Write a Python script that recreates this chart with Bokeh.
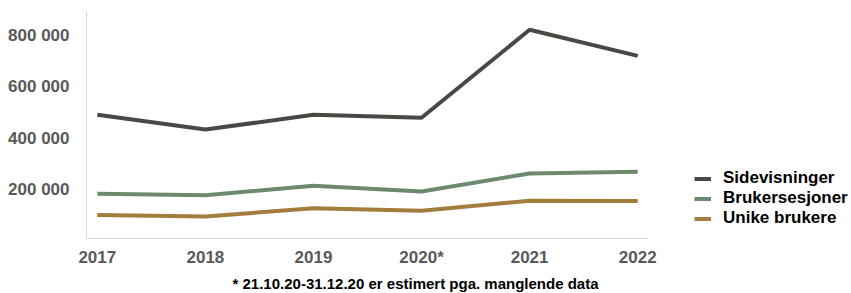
from bokeh.plotting import figure
from bokeh.models import Legend, LegendItem, Title, Range1d, FixedTicker, CustomJSTickFormatter
from bokeh.embed import file_html
from bokeh.resources import INLINE

years = ["2017", "2018", "2019", "2020*", "2021", "2022"]
sidevisninger = [492000, 434000, 492000, 480000, 823000, 721000]
brukersesjoner = [184000, 178000, 215000, 193000, 263000, 270000]
unike_brukere = [101000, 95000, 128000, 118000, 157000, 156000]
y_ticks = [200000, 400000, 600000, 800000]
footnote = "* 21.10.20-31.12.20 er estimert pga. manglende data"

series = [
    ("Sidevisninger", sidevisninger, "#474a42"),
    ("Brukersesjoner", brukersesjoner, "#6d8a6c"),
    ("Unike brukere", unike_brukere, "#a37d3c"),
]

xs = list(range(len(years)))
FONT = "Liberation Sans"

p = figure(frame_width=562, frame_height=228, output_backend="svg", toolbar_location=None,
           x_range=Range1d(-0.1, len(years) - 1 + 0.1), y_range=Range1d(9700, 898000),
           min_border_left=86, min_border_right=0, min_border_top=10, min_border_bottom=0)
p.outline_line_color = None
p.xgrid.visible = False
p.ygrid.visible = False

items = []
for name, vals, col in series:
    r = p.line(xs, vals, line_color=col, line_width=4)
    items.append(LegendItem(label=name, renderers=[r]))

p.xaxis.ticker = FixedTicker(ticks=xs)
p.xaxis.major_label_overrides = {i: y for i, y in enumerate(years)}
p.yaxis.ticker = FixedTicker(ticks=y_ticks)
p.yaxis.formatter = CustomJSTickFormatter(code="return tick.toLocaleString('en-US').replace(/,/g, ' ');")

for ax in (p.xaxis[0], p.yaxis[0]):
    ax.axis_line_color = "#d9d9d9"
    ax.axis_line_width = 1
    ax.major_tick_line_color = None
    ax.minor_tick_line_color = None
    ax.major_label_text_font = FONT
    ax.major_label_text_font_style = "bold"
    ax.major_label_text_font_size = "17px"
    ax.major_label_text_color = "#595959"
p.xaxis.major_label_standoff = 3
p.yaxis.major_label_standoff = 11

legend = Legend(items=items, location=(46, 10), orientation="vertical",
                label_text_font=FONT, label_text_font_style="bold", label_text_font_size="17px",
                label_text_color="#000000", glyph_width=17, glyph_height=19, label_height=19,
                label_standoff=12, spacing=0, padding=0, margin=0,
                border_line_color=None, background_fill_alpha=0)
p.add_layout(legend, "right")

note = Title(text=footnote, align="left", offset=146, text_font=FONT, text_font_style="bold",
             text_font_size="15px", text_color="#000000", standoff=6)
p.add_layout(note, "below")

open("out.html", "w").write(file_html(p, INLINE))
